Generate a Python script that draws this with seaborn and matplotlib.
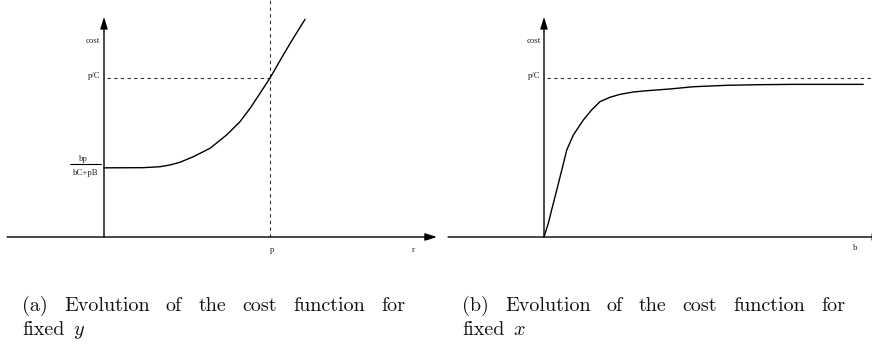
import matplotlib
matplotlib.use("Agg")
import matplotlib.pyplot as plt
import seaborn as sns

# Cost as a function of r with y fixed (units: r / p, cost / (p/C))
r_vals = [0.0, 0.235, 0.337, 0.398, 0.458, 0.538, 0.639, 0.739, 0.819, 0.880,
          0.940, 1.0, 1.080, 1.140, 1.211]
cost_r = [0.435, 0.436, 0.442, 0.453, 0.470, 0.505, 0.558, 0.642, 0.725, 0.809,
          0.904, 1.0, 1.145, 1.250, 1.369]

# Cost as a function of b with x fixed
b_vals = [0.0, 0.026, 0.046, 0.077, 0.107, 0.137, 0.177, 0.237, 0.287, 0.337,
          0.398, 0.458, 0.538, 0.619, 0.759, 0.899, 1.101, 1.301, 1.502, 1.923]
cost_b = [0.0, 0.086, 0.170, 0.296, 0.421, 0.547, 0.642, 0.736, 0.799, 0.851,
          0.879, 0.897, 0.912, 0.920, 0.931, 0.945, 0.954, 0.958, 0.960, 0.960]

baseline = 0.435          # bp / (bC + pB)
limit = 1.0               # p / C
p_pos = 1.0               # p on the r axis

caption_words = ["Evolution", "of", "the", "cost", "function", "for"]
caption_tags = ["(a)", "(b)"]
caption_vars = ["$y$", "$x$"]

sns.set_theme(style="white")
plt.rcParams["font.family"] = ["Liberation Serif", "DejaVu Serif"]
plt.rcParams["mathtext.fontset"] = "cm"

W, H = 872, 348
fig = plt.figure(figsize=(W / 100, H / 100), dpi=100)

SX, SY = 166.0, 159.0      # pixels per unit on each axis


def panel(x0, x1, ox, oy, yt=0, yb=270):
    ax = fig.add_axes([x0 / W, 1 - yb / H, (x1 - x0) / W, (yb - yt) / H])
    ax.set_xlim((x0 - ox) / SX, (x1 - ox) / SX)
    ax.set_ylim((oy - yb) / SY, (oy - yt) / SY)
    ax.axis("off")
    return ax


def arrow(ax, start, end):
    ax.annotate("", xy=end, xytext=start, annotation_clip=False,
                arrowprops=dict(arrowstyle="-|>,head_length=0.7,head_width=0.22",
                                lw=1.0, color="black", shrinkA=0, shrinkB=0,
                                mutation_scale=10))


dash = dict(color="#333333", lw=0.8, ls=(0, (3, 3)))
lab = dict(fontsize=6.3, color="#222222")

# ---- panel (a) ----
axa = panel(0, 444, 104, 237)
arrow(axa, (-0.584, 0), (2.006, 0))
arrow(axa, (0, 0), (0, 1.384))
axa.plot([0.02, p_pos], [limit, limit], **dash)
axa.plot([p_pos, p_pos], [0, 1.6], **dash)
sns.lineplot(x=r_vals, y=cost_r, ax=axa, color="black", lw=1.0,
             sort=False, estimator=None)
axa.text(-0.024, 1.233, "cost", ha="right", va="center", **lab)
axa.text(-0.024, 1.01, "p/C", ha="right", va="center", **lab)
axa.text(-0.127, baseline + 0.056, "bp", ha="center", va="center", **lab)
axa.plot([-0.205, -0.018], [baseline + 0.025, baseline + 0.025], color="black", lw=0.8)
axa.text(-0.108, baseline - 0.031, "bC+pB", ha="center", va="center", **lab)
axa.text(p_pos + 0.01, -0.082, "p", ha="center", va="center", **lab)
axa.text(1.861, -0.082, "r", ha="center", va="center", **lab)

# ---- panel (b) ----
axb = panel(444, 872, 544, 237)
arrow(axb, (-0.578, 0), (2.05, 0))
arrow(axb, (0, 0), (0, 1.384))
axb.plot([0.018, 1.976], [limit, limit], **dash)
sns.lineplot(x=b_vals, y=cost_b, ax=axb, color="black", lw=1.0,
             sort=False, estimator=None)
axb.text(-0.02, 1.233, "cost", ha="right", va="center", **lab)
axb.text(-0.02, 1.01, "p/C", ha="right", va="center", **lab)
axb.text(1.873, -0.069, "b", ha="center", va="center", **lab)

# ---- captions: words spread evenly over a fixed line width ----
cap = dict(family="cmr10", fontsize=14.5, ha="left", va="baseline", color="#111111")
renderer = fig.canvas.get_renderer()


def spread(words, x_left, x_right, y):
    texts = [fig.text(0, 1 - y / H, w, **cap) for w in words]
    widths = [t.get_window_extent(renderer).width for t in texts]
    gap = (x_right - x_left - sum(widths)) / (len(words) - 1)
    x = x_left
    for t, w in zip(texts, widths):
        t.set_x(x / W)
        x += w + gap


for tag, var, x0 in zip(caption_tags, caption_vars, [22, 462]):
    spread([tag] + caption_words, x0, x0 + 383, 311)
    fixed = fig.text(x0 / W, 1 - 335 / H, "fixed", **cap)
    fw = fixed.get_window_extent(renderer).width
    fig.text((x0 + fw + 9) / W, 1 - 335 / H, var, **cap)

fig.savefig("out.png", dpi=100, facecolor="white")
